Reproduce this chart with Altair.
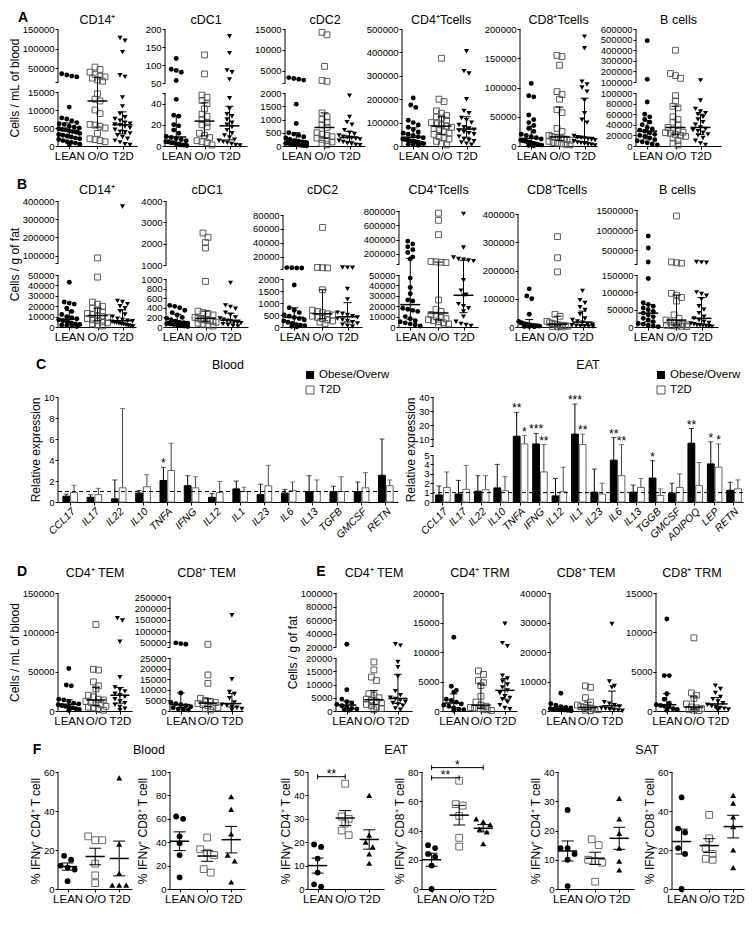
import json
import numpy as np
import pandas as pd
import altair as alt

FONT = "Liberation Sans"
GROUPS = ["LEAN", "O/O", "T2D"]
SERIES = ["Obese/Overw", "T2D"]
ONE = pd.DataFrame({"k": [0]})

# ---------------- Row A : cells / mL of blood ----------------
A_CD14_LEAN = [36000, 33000, 30000, 28000, 10800, 7800, 7500, 7000, 6500, 6200, 6000, 5500, 5200, 5000, 4800, 4600, 4500, 4200, 4000, 3800, 3500, 3200, 3000, 2800, 2500, 2200, 2000, 1800, 1500, 1200, 1000, 800, 500, 300]
A_CD14_OO = [53000, 47000, 40000, 35000, 30000, 28000, 25000, 20000, 17000, 14500, 13000, 12500, 10000, 9000, 6000, 5800, 5500, 5000, 3500, 2000, 1800, 1500, 1200]
A_CD14_T2D = [127000, 120000, 91000, 32000, 28000, 13500, 11000, 9000, 8000, 7500, 7000, 6500, 6200, 6000, 5800, 5500, 5000, 4500, 4000, 3800, 3500, 3000, 2500, 2000, 1500, 1000, 500, 300]
A_CDC1_LEAN = [118, 88, 85, 80, 57, 44, 29, 28, 20, 19, 15, 12, 9, 8, 7, 6, 5, 4, 4, 3, 3, 2, 2, 1, 1, 0.5]
A_CDC1_OO = [128, 75, 48, 46, 43, 40, 35, 30, 28, 25, 22, 20, 18, 12, 10, 8, 5, 4, 3, 1]
A_CDC1_T2D = [180, 133, 85, 80, 60, 45, 35, 30, 28, 25, 22, 20, 18, 15, 12, 10, 8, 6, 5, 4, 3, 2, 1, 0.5]
A_CDC2_LEAN = [3300, 3100, 2900, 2700, 1580, 850, 500, 450, 400, 350, 300, 250, 200, 180, 150, 120, 100, 100, 80, 60, 50, 40, 30, 20, 10]
A_CDC2_OO = [14200, 13600, 6000, 2600, 2400, 1250, 1100, 1000, 900, 800, 700, 500, 450, 400, 350, 300, 250, 200, 150, 100, 50]
A_CDC2_T2D = [1900, 1100, 900, 800, 600, 500, 450, 400, 350, 320, 300, 280, 250, 200, 150, 100, 80, 50, 30]
A_CD4_LEAN = [205000, 175000, 165000, 110000, 100000, 90000, 80000, 70000, 60000, 55000, 50000, 45000, 40000, 35000, 30000, 28000, 25000, 22000, 20000, 18000, 15000, 12000, 10000, 8000, 5000, 3000]
A_CD4_OO = [375000, 200000, 190000, 150000, 140000, 130000, 125000, 120000, 110000, 100000, 95000, 90000, 85000, 80000, 75000, 70000, 60000, 55000, 50000, 40000, 35000, 30000, 20000, 10000, 5000]
A_CD4_T2D = [405000, 320000, 310000, 200000, 150000, 140000, 120000, 110000, 100000, 90000, 80000, 75000, 70000, 65000, 60000, 55000, 50000, 40000, 30000, 25000, 20000, 15000, 10000, 5000]
A_CD8_LEAN = [107000, 86000, 84000, 53000, 45000, 40000, 35000, 30000, 25000, 20000, 18000, 16000, 14000, 12000, 10000, 9000, 8000, 7000, 6000, 5000, 4000, 3000, 2000, 1500, 1000, 500]
A_CD8_OO = [155000, 153000, 138000, 93000, 88000, 80000, 62000, 57000, 30000, 25000, 18000, 16000, 15000, 14000, 13000, 12000, 11000, 10000, 8000, 6000, 5000, 4000, 3000, 2000]
A_CD8_T2D = [187000, 167000, 110000, 105000, 100000, 93000, 78000, 56000, 45000, 40000, 17000, 15000, 14000, 13000, 12000, 11000, 10000, 8000, 6000, 5000, 4000, 3000, 2000, 1000]
A_B_LEAN = [490000, 125000, 83000, 60000, 55000, 50000, 45000, 40000, 35000, 32000, 30000, 28000, 25000, 22000, 20000, 18000, 15000, 12000, 10000, 8000, 6000, 4000, 2000]
A_B_OO = [400000, 180000, 160000, 135000, 95000, 85000, 75000, 72000, 55000, 50000, 45000, 40000, 35000, 30000, 28000, 26000, 25000, 24000, 22000, 20000, 18000, 15000, 10000, 5000, 2000]
A_B_T2D = [115000, 86000, 70000, 65000, 62000, 60000, 55000, 50000, 45000, 40000, 35000, 32000, 30000, 28000, 25000, 22000, 20000, 15000, 10000, 5000, 2000]

# ---------------- Row B : cells / g of fat ----------------
B_CD14_LEAN = [43000, 24000, 23000, 22000, 18000, 15000, 12000, 10000, 9000, 8000, 7000, 6000, 5000, 4000, 3000, 2500, 2000, 1500, 1000, 500]
B_CD14_OO = [88000, 48000, 24000, 22000, 20000, 18000, 16000, 14000, 13000, 12000, 11000, 10000, 9000, 8000, 7000, 6000, 5000, 4000, 3000, 2000, 1000]
B_CD14_T2D = [370000, 25000, 24000, 22000, 20000, 18000, 15000, 12000, 10000, 8000, 7000, 6000, 5500, 5000, 4500, 4000, 3500, 3000, 2500, 2000, 1500, 1000, 500]
B_CDC1_LEAN = [450, 430, 400, 350, 300, 250, 200, 180, 150, 120, 100, 90, 80, 70, 60, 50, 40, 30, 20, 10]
B_CDC1_OO = [2500, 2300, 2050, 1800, 950, 330, 300, 280, 250, 200, 180, 160, 150, 140, 130, 120, 100, 80, 60, 40, 20]
B_CDC1_T2D = [920, 450, 420, 380, 300, 250, 200, 180, 150, 130, 120, 100, 90, 80, 60, 40, 20, 10]
B_CDC2_LEAN = [4000, 3800, 3600, 3400, 1750, 800, 700, 600, 500, 450, 400, 350, 300, 250, 200, 150, 100, 80, 50, 30, 10]
B_CDC2_OO = [62000, 4200, 3800, 3500, 1550, 700, 650, 600, 550, 500, 450, 400, 350, 300, 250, 200, 150]
B_CDC2_T2D = [4200, 4000, 3800, 1580, 1150, 600, 550, 500, 450, 400, 350, 300, 250, 200, 150, 100, 50, 20]
B_CD4_LEAN = [380000, 340000, 300000, 260000, 220000, 160000, 130000, 47000, 38000, 32000, 26000, 25000, 18000, 17000, 16000, 15000, 10000, 8000, 6000, 5000, 4000, 3000, 2000, 1000]
B_CD4_OO = [770000, 670000, 470000, 95000, 90000, 85000, 80000, 26000, 17000, 15000, 12000, 10000, 9000, 8000, 7000, 6000, 5000, 4000, 3000, 2000]
B_CD4_T2D = [760000, 290000, 150000, 130000, 120000, 110000, 100000, 45000, 35000, 31000, 30000, 22000, 20000, 18000, 15000, 10000, 5000, 3000, 2000, 1000]
B_CD8_LEAN = [135000, 110000, 100000, 45000, 20000, 15000, 12000, 10000, 8000, 6000, 5000, 4000, 3000, 2000, 1500, 1000]
B_CD8_OO = [320000, 245000, 195000, 45000, 38000, 20000, 15000, 12000, 10000, 8000, 6000, 5000, 4000, 3000, 2000, 1000, 500]
B_CD8_T2D = [128000, 95000, 85000, 70000, 60000, 45000, 30000, 25000, 20000, 15000, 10000, 8000, 6000, 5000, 4000, 3000, 2000, 1000]
B_B_LEAN = [850000, 550000, 200000, 140000, 70000, 65000, 60000, 55000, 50000, 45000, 40000, 35000, 30000, 25000, 20000, 15000, 10000, 8000, 5000, 3000, 1000]
B_B_OO = [1350000, 200000, 180000, 170000, 97000, 92000, 85000, 75000, 35000, 25000, 20000, 15000, 12000, 10000, 8000, 6000, 5000, 4000, 3000, 2000, 1000]
B_B_T2D = [200000, 190000, 180000, 100000, 95000, 90000, 80000, 60000, 50000, 40000, 30000, 25000, 20000, 15000, 12000, 10000, 8000, 6000, 5000, 4000, 3000, 2000, 1000]

# ---------------- Row C : relative expression ----------------
BLOOD_GENES = ["CCL17", "IL17", "IL22", "IL10", "TNFA", "IFNG", "IL12", "IL1", "IL23", "IL6", "IL13", "TGFB", "GMCSF", "RETN"]
BLOOD_OB = [0.55, 0.45, 0.3, 0.85, 2.05, 1.55, 0.45, 1.25, 0.7, 0.85, 1.0, 1.0, 1.0, 2.55]
BLOOD_OB_TOP = [0.75, 0.7, 2.1, 1.1, 3.3, 2.5, 0.8, 2.0, 1.7, 1.2, 2.5, 1.5, 1.9, 6.0]
BLOOD_T2D = [0.9, 0.7, 1.35, 1.45, 3.0, 1.35, 0.9, 1.0, 1.55, 1.1, 1.0, 1.0, 1.35, 1.55]
BLOOD_T2D_TOP = [1.6, 1.3, 8.9, 2.6, 5.6, 2.4, 1.95, 1.4, 3.5, 1.9, 2.1, 2.4, 2.8, 2.1]
BLOOD_OB_SIG = ["", "", "", "", "*", "", "", "", "", "", "", "", "", ""]
BLOOD_T2D_SIG = ["", "", "", "", "", "", "", "", "", "", "", "", "", ""]
EAT_GENES = ["CCL17", "IL17", "IL22", "IL10", "TNFA", "IFNG", "IL12", "IL1", "IL23", "IL6", "IL13", "TGGB", "GMCSF", "ADIPOQ", "LEP", "RETN"]
EAT_OB = [0.75, 0.85, 1.15, 1.5, 12.0, 6.5, 0.65, 13.5, 1.05, 4.45, 1.05, 2.55, 0.95, 7.0, 4.05, 1.25]
EAT_OB_TOP = [1.7, 2.3, 2.8, 4.0, 29.0, 14.0, 2.5, 35.0, 3.5, 11.0, 1.8, 4.4, 2.0, 17.5, 8.0, 2.1]
EAT_T2D = [1.55, 1.35, 1.3, 1.2, 6.5, 3.2, 1.1, 6.0, 0.85, 2.8, 1.55, 0.7, 1.55, 1.75, 3.7, 1.4]
EAT_T2D_TOP = [3.2, 3.9, 2.8, 2.7, 12.5, 6.0, 3.7, 13.5, 2.0, 6.0, 2.5, 1.4, 3.0, 4.2, 6.5, 2.35]
EAT_OB_SIG = ["", "", "", "", "**", "***", "", "***", "", "**", "", "*", "", "**", "*", ""]
EAT_T2D_SIG = ["", "", "", "", "*", "**", "", "**", "", "**", "", "", "", "", "*", ""]

# ---------------- Row D / E ----------------
D_CD4TEM_LEAN = [54000, 33000, 32000, 15000, 14000, 12000, 10000, 9000, 8000, 7000, 6000, 5000, 4000, 3000, 2000, 1000]
D_CD4TEM_OO = [110000, 53000, 52000, 37000, 32000, 28000, 20000, 18000, 15000, 14000, 12000, 11000, 10000, 8000, 6000, 5000, 4000, 2000, 1000]
D_CD4TEM_T2D = [118000, 115000, 88000, 43000, 30000, 27000, 25000, 22000, 20000, 18000, 15000, 12000, 10000, 8000, 5000, 3000, 1000]
D_CD8TEM_LEAN = [48000, 45000, 42000, 8500, 4000, 3500, 3000, 2500, 2000, 1500, 1000, 800, 500]
D_CD8TEM_OO = [42000, 17000, 13000, 6000, 5000, 4500, 4000, 3500, 3000, 2500, 2000, 1500, 1000, 500]
D_CD8TEM_T2D = [170000, 15000, 9000, 8000, 6000, 4000, 3000, 2500, 2000, 1500, 1000, 500]
E_CD4TEM_LEAN = [24000, 8000, 4500, 3500, 3000, 2500, 2000, 1500, 1000, 800, 500, 300]
E_CD4TEM_OO = [18500, 15500, 12800, 11500, 6500, 6000, 5000, 4500, 4000, 3500, 3000, 2500, 2000, 1500, 1000, 500]
E_CD4TEM_T2D = [24000, 22000, 18500, 16500, 13000, 7500, 6000, 5000, 4500, 4000, 3500, 3000, 2500, 2000, 1000, 500]
E_CD4TRM_LEAN = [12500, 4200, 3500, 3200, 2000, 1800, 1500, 1200, 1000, 800, 500, 300, 200, 100]
E_CD4TRM_OO = [6800, 6200, 5200, 4800, 4300, 2500, 1500, 1000, 800, 600, 500, 400, 300, 200, 100]
E_CD4TRM_T2D = [14800, 11500, 11000, 6000, 5500, 5000, 4500, 4000, 3500, 3000, 2500, 2200, 2000, 1500, 1000, 500, 300]
E_CD8TEM_LEAN = [6000, 2500, 2000, 1500, 1200, 1000, 800, 600, 500, 400, 300, 200, 100]
E_CD8TEM_OO = [8500, 8000, 4500, 3000, 2000, 1500, 1200, 1000, 800, 600, 500, 300, 100]
E_CD8TEM_T2D = [29500, 10000, 8500, 8000, 3000, 2500, 2000, 1500, 1000, 800, 600, 400, 200, 100]
E_CD8TRM_LEAN = [11700, 4500, 4500, 2200, 1500, 1000, 800, 700, 600, 500, 300, 200, 100]
E_CD8TRM_OO = [9300, 2300, 2000, 1600, 900, 500, 400, 300, 200, 100, 50]
E_CD8TRM_T2D = [3200, 2800, 2300, 1800, 1500, 1200, 1000, 800, 600, 500, 400, 300, 200, 100]

# ---------------- Row F : % IFNg+ ----------------
F_BLOOD_CD4 = [[15, 17, 12, 11, 10, 4], [27, 25, 25, 13, 7, 3], [57, 23, 8, 2, 2, 2]]
F_BLOOD_CD8 = [[62, 60, 45, 39, 29, 10], [44, 34, 31, 29, 17, 14], [79, 68, 47, 29, 24, 6]]
F_EAT_CD4 = [[19, 18, 13, 7, 2, 1], [45, 31, 30, 28, 25, 23], [40, 23, 20, 18, 15, 11]]
F_EAT_CD8 = [[30, 28, 24, 22, 16, 0], [74, 58, 57, 50, 35, 29], [48, 46, 44, 41, 39, 31]]
F_SAT_CD4 = [[27, 14, 14, 12, 10, 1], [17, 15, 10, 9.5, 9, 2.5], [31, 24, 19, 14, 9.5, 6.5]]
F_SAT_CD8 = [[47, 31, 29, 21, 18, 0], [38, 26, 21, 18, 15, 15.5], [48, 44, 37, 32, 20, 11]]
F_EAT_CD4_SIG = [(0, 1, 48, "**")]
F_EAT_CD8_SIG = [(0, 1, 76, "**"), (0, 2, 83, "*")]


def build_y(segs, gaps, H, top_pad=0):
    dom, rng, labeled, breaks, lines = [], [], [], [], []
    y = float(H)
    prev_hi = None
    for k, s in enumerate(segs):
        lo, hi, h, tks = float(s[0]), float(s[1]), float(s[2]), s[3]
        lo_raw = s[0]
        if k > 0:
            y -= gaps[k - 1]
            if lo <= prev_hi:
                lo = prev_hi + (hi - prev_hi) * 1e-7
            if lo_raw not in tks:
                breaks.append(lo)
            if segs[k - 1][1] not in segs[k - 1][3]:
                breaks.append(prev_hi)
        dom += [lo, hi]
        rng += [y, y - h]
        lines.append((lo, hi))
        for t in tks:
            labeled.append(lo if (k > 0 and t == lo_raw) else float(t))
        prev_hi = hi
        y -= h
    if top_pad:
        lo, hi = lines[-1]
        h = float(segs[-1][2])
        dom.append(hi + top_pad * (hi - lo) / h)
        rng.append(y - top_pad)
    return dom, rng, sorted(set(labeled + breaks)), breaks, lines


def y_axis(values, breaks, title):
    expr = "datum.label"
    if breaks:
        cond = " || ".join("datum.value == " + json.dumps(b) for b in breaks)
        expr = "(" + cond + ") ? '' : datum.label"
    return alt.Axis(values=values, format="d", labelExpr=expr, domain=False, tickSize=3,
                    labelPadding=1, labelOverlap=False, labelFontSize=9.5, title=title,
                    titlePadding=1, grid=False, minExtent=0)


def jitter(v, base, dom, rng, unit, step, binpx, maxw):
    py = np.interp(v, dom, rng)
    order = np.argsort(py)
    xs = np.zeros(len(v))
    bins, cur, start = [], [], None
    for i in order:
        if start is None or py[i] - start > binpx:
            if cur:
                bins.append(cur)
            cur, start = [i], py[i]
        else:
            cur.append(i)
    if cur:
        bins.append(cur)
    for b in bins:
        k = len(b)
        if k == 1:
            continue
        sp = min(step, maxw / (k - 1))
        for j, i in enumerate(b):
            xs[i] = (j - (k - 1) / 2.0) * sp
    return base + xs / unit


def txt(s, x, y, size=12.5, weight="normal", align="center"):
    return alt.Chart(ONE).mark_text(text=s, fontSize=size, fontWeight=weight, align=align,
                                    baseline="middle", font=FONT, color="black").encode(
        x=alt.value(x), y=alt.value(y))


def spacer(L, W, T, H, B):
    # invisible frame that fixes the block each panel occupies in the grid
    return alt.Chart(ONE).mark_rect(fillOpacity=0, stroke="white", strokeOpacity=0, strokeWidth=0.5).encode(
        x=alt.value(-L), x2=alt.value(W), y=alt.value(-T), y2=alt.value(H + B))


def scatter_panel(title, data3, segs, gaps, H, W, L, T, B, top_pad=0, ytitle=None,
                  tri="triangle-down", unit=25.0, x0=-0.45, pos=(0.0, 1.13, 2.13), stat="median",
                  sizes=(24, 34, 26), step=5.0, binpx=5.0, maxw=21.0, half_line=0.40, half_cap=0.16,
                  title_y=-9, extras=(), sq_color="#5a5a5a", brackets=()):
    dom, rng, vals, breaks, lines = build_y(segs, gaps, H, top_pad)
    ysc = alt.Scale(domain=dom, range=rng, zero=False, nice=False)
    yax = y_axis(vals, breaks, ytitle)
    xsc = alt.Scale(domain=[x0, x0 + W / unit], zero=False, nice=False)
    m1 = (pos[0] + pos[1]) / 2.0
    m2 = (pos[1] + pos[2]) / 2.0
    xax = alt.Axis(values=list(pos),
                   labelExpr="datum.value < %g ? 'LEAN' : datum.value < %g ? 'O/O' : 'T2D'" % (m1, m2),
                   tickSize=3, labelFontSize=11.5, labelPadding=1, labelFlush=False, labelOverlap=False,
                   grid=False, title=None, domain=True, minExtent=0)

    def X(f):
        return alt.X(f, scale=xsc, axis=xax)

    def Y(f):
        return alt.Y(f, scale=ysc, axis=yax)

    layers = [spacer(L, W, T, H, B)]
    segdf = pd.DataFrame({"lo": [l[0] for l in lines], "hi": [l[1] for l in lines]})
    layers.append(alt.Chart(segdf).mark_rule(color="black", strokeWidth=1).encode(
        x=alt.value(0), y=Y("lo:Q"), y2="hi:Q"))
    marks = [dict(shape="circle", filled=True, color="black", size=sizes[0]),
             dict(shape="square", filled=False, color=sq_color, size=sizes[1], strokeWidth=1),
             dict(shape=tri, filled=True, color="black", size=sizes[2])]
    rows = []
    for gi, vg in enumerate(data3):
        v = np.array(vg, dtype=float)
        p = pos[gi]
        gx = jitter(v, p, dom, rng, unit, step, binpx, maxw)
        df = pd.DataFrame({"gx": gx, "v": v})
        layers.append(alt.Chart(df).mark_point(opacity=1, **marks[gi]).encode(x=X("gx:Q"), y=Y("v:Q")))
        if stat == "median":
            c = float(np.median(v))
            lo = float(np.percentile(v, 25))
            hi = float(np.percentile(v, 75))
        else:
            c = float(v.mean())
            se = float(v.std(ddof=1) / np.sqrt(len(v)))
            lo, hi = c - se, c + se
        rows.append(dict(g=p, c=c, lo=lo, hi=hi, xa=p - half_line, xb=p + half_line,
                         ca=p - half_cap, cb=p + half_cap))
    st = alt.Chart(pd.DataFrame(rows))
    layers += [
        st.mark_rule(color="black", strokeWidth=1.5).encode(x=X("xa:Q"), x2="xb:Q", y=Y("c:Q")),
        st.mark_rule(color="black", strokeWidth=1).encode(x=X("g:Q"), y=Y("lo:Q"), y2="hi:Q"),
        st.mark_rule(color="black", strokeWidth=1).encode(x=X("ca:Q"), x2="cb:Q", y=Y("lo:Q")),
        st.mark_rule(color="black", strokeWidth=1).encode(x=X("ca:Q"), x2="cb:Q", y=Y("hi:Q")),
    ]
    if brackets:
        d = 2.5 * (dom[-1] - dom[0]) / H
        bdf = pd.DataFrame([dict(xa=pos[b[0]], xb=pos[b[1]], y=float(b[2]), y0=b[2] - d, y1=b[2] + d,
                                 xm=(pos[b[0]] + pos[b[1]]) / 2.0, lab=b[3]) for b in brackets])
        bb = alt.Chart(bdf)
        layers += [
            bb.mark_rule(color="black", strokeWidth=1).encode(x=X("xa:Q"), x2="xb:Q", y=Y("y:Q")),
            bb.mark_rule(color="black", strokeWidth=1).encode(x=X("xa:Q"), y=Y("y0:Q"), y2="y1:Q"),
            bb.mark_rule(color="black", strokeWidth=1).encode(x=X("xb:Q"), y=Y("y0:Q"), y2="y1:Q"),
            bb.mark_text(fontSize=12, baseline="bottom", dy=4, font=FONT, color="black").encode(
                x=X("xm:Q"), y=Y("y:Q"), text="lab:N"),
        ]
    if title:
        layers.append(txt(title, W / 2.0, title_y, 12.5))
    layers += list(extras)
    return alt.layer(*layers).properties(width=W, height=H)


def bar_panel(title, genes, ob, obt, t2, t2t, obs, t2s, segs, gaps, H, W, L, T, B, pi, po, leg_x,
              extras=()):
    dom, rng, vals, breaks, lines = build_y(segs, gaps, H)
    ysc = alt.Scale(domain=dom, range=rng, zero=False, nice=False)
    yax = y_axis(vals, breaks, "Relative expression")
    n = len(genes)
    df = pd.DataFrame({"gene": genes * 2, "series": [SERIES[0]] * n + [SERIES[1]] * n,
                       "val": ob + t2, "top": obt + t2t, "sig": obs + t2s})
    xax = alt.Axis(labelAngle=-45, labelAlign="right", labelBaseline="top", labelFontStyle="italic",
                   labelFontSize=10.5, tickSize=3, labelPadding=1, title=None, domain=True, grid=False,
                   labelOverlap=False, minExtent=0)
    X = alt.X("gene:N", sort=genes, scale=alt.Scale(paddingInner=pi, paddingOuter=po), axis=xax)
    XO = alt.XOffset("series:N", sort=SERIES, scale=alt.Scale(paddingInner=0.12))

    def Y(f):
        return alt.Y(f, scale=ysc, axis=yax)

    col = alt.Color("series:N", scale=alt.Scale(domain=SERIES, range=["black", "#444444"]), legend=None)
    base = alt.Chart(df)
    segdf = pd.DataFrame({"lo": [l[0] for l in lines], "hi": [l[1] for l in lines]})
    layers = [
        spacer(L, W, T, H, B),
        alt.Chart(segdf).mark_rule(color="black", strokeWidth=1).encode(x=alt.value(0), y=Y("lo:Q"), y2="hi:Q"),
        base.mark_rule(strokeWidth=1).encode(x=X, xOffset=XO, y=Y("val:Q"), y2="top:Q", color=col),
        base.mark_tick(thickness=1, size=5).encode(x=X, xOffset=XO, y=Y("top:Q"), color=col),
        base.mark_bar(strokeWidth=1).encode(
            x=X, xOffset=XO, y=Y("val:Q"), y2=alt.datum(0),
            fill=alt.Fill("series:N", scale=alt.Scale(domain=SERIES, range=["black", "white"]), legend=None),
            stroke=alt.Stroke("series:N", scale=alt.Scale(domain=SERIES, range=["black", "#666666"]), legend=None)),
        base.mark_text(fontSize=12, baseline="bottom", dy=3, font=FONT, color="black").encode(
            x=X, xOffset=XO, y=Y("top:Q"), text="sig:N"),
        alt.Chart(ONE).mark_rule(strokeDash=[4, 3], color="black", strokeWidth=1).encode(
            y=alt.YDatum(1.0, scale=ysc, axis=yax)),
        alt.Chart(ONE).mark_square(size=64, color="black", opacity=1).encode(x=alt.value(leg_x), y=alt.value(-22)),
        alt.Chart(ONE).mark_square(size=64, fill="white", stroke="#555555", strokeWidth=1, opacity=1).encode(
            x=alt.value(leg_x), y=alt.value(-7)),
        txt(SERIES[0], leg_x + 9, -22, 11.5, align="left"),
        txt(SERIES[1], leg_x + 9, -7, 11.5, align="left"),
        txt(title, W / 2.0, -32, 12.5),
    ] + list(extras)
    return alt.layer(*layers).properties(width=W, height=H)


def lefts(a, W):
    L = [a[0] - 8]
    for i in range(1, len(a)):
        L.append(a[i] - (a[i - 1] + W[i - 1]))
    return L


def ticks(step, top):
    return list(range(0, top + 1, step))


# ---------------- Row A ----------------
aA = [51, 158, 278, 395, 513, 628]
WA = [79, 82, 80, 78, 77, 85]
LA = lefts(aA, WA)
HA, TA, BA = 117, 21, 22
rowA = alt.hconcat(
    scatter_panel("CD14⁺", [A_CD14_LEAN, A_CD14_OO, A_CD14_T2D],
                  [(0, 15000, 54, ticks(5000, 15000)), (15000, 150000, 53, [50000, 100000, 150000])], [10],
                  HA, WA[0], LA[0], TA, BA, ytitle="Cells / mL of blood",
                  extras=[txt("A", -LA[0] + 8, -11, 14, "bold")]),
    scatter_panel("cDC1", [A_CDC1_LEAN, A_CDC1_OO, A_CDC1_T2D],
                  [(0, 50, 53, [0, 20, 40]), (50, 200, 54, [50, 100, 150, 200])], [10],
                  HA, WA[1], LA[1], TA, BA),
    scatter_panel("cDC2", [A_CDC2_LEAN, A_CDC2_OO, A_CDC2_T2D],
                  [(0, 2000, 53, ticks(500, 2000)), (2000, 15000, 54, [5000, 10000, 15000])], [10],
                  HA, WA[2], LA[2], TA, BA),
    scatter_panel("CD4⁺Tcells", [A_CD4_LEAN, A_CD4_OO, A_CD4_T2D],
                  [(0, 500000, 117, ticks(100000, 500000))], [], HA, WA[3], LA[3], TA, BA),
    scatter_panel("CD8⁺Tcells", [A_CD8_LEAN, A_CD8_OO, A_CD8_T2D],
                  [(0, 200000, 117, ticks(50000, 200000))], [], HA, WA[4], LA[4], TA, BA),
    scatter_panel("B cells", [A_B_LEAN, A_B_OO, A_B_T2D],
                  [(0, 100000, 53, ticks(20000, 100000)), (100000, 600000, 53, ticks(100000, 600000)[1:])], [11],
                  HA, WA[5], LA[5], TA, BA),
    spacing=0)

# ---------------- Row B ----------------
aB = [52, 160, 277, 393, 512, 631]
WB = [78, 82, 79, 79, 78, 81]
LB = lefts(aB, WB)
HB, TB, BB = 126, 33, 22
rowB = alt.hconcat(
    scatter_panel("CD14⁺", [B_CD14_LEAN, B_CD14_OO, B_CD14_T2D],
                  [(0, 50000, 52, ticks(10000, 50000)), (60000, 400000, 62, [100000, 200000, 300000, 400000])], [12],
                  HB, WB[0], LB[0], TB, BB, ytitle="Cells / g of fat", title_y=-11,
                  extras=[txt("B", -LB[0] + 8, -16, 14, "bold")]),
    scatter_panel("cDC1", [B_CDC1_LEAN, B_CDC1_OO, B_CDC1_T2D],
                  [(0, 1000, 48, ticks(200, 1000)), (1000, 4000, 64, [1000, 2000, 3000, 4000])], [14],
                  HB, WB[1], LB[1], TB, BB, title_y=-11),
    scatter_panel("cDC2", [B_CDC2_LEAN, B_CDC2_OO, B_CDC2_T2D],
                  [(0, 2000, 48, ticks(500, 2000)), (2000, 80000, 54, [20000, 40000, 60000, 80000])], [10],
                  HB, WB[2], LB[2], TB, BB, top_pad=14, title_y=-11),
    scatter_panel("CD4⁺Tcells", [B_CD4_LEAN, B_CD4_OO, B_CD4_T2D],
                  [(0, 50000, 52, ticks(10000, 50000)), (60000, 800000, 53, [200000, 400000, 600000, 800000])], [11],
                  HB, WB[3], LB[3], TB, BB, top_pad=10, title_y=-11),
    scatter_panel("CD8⁺Tcells", [B_CD8_LEAN, B_CD8_OO, B_CD8_T2D],
                  [(0, 400000, 113, ticks(100000, 400000))], [], HB, WB[4], LB[4], TB, BB, top_pad=13,
                  title_y=-11),
    scatter_panel("B cells", [B_B_LEAN, B_B_OO, B_B_T2D],
                  [(0, 150000, 52, ticks(50000, 150000)), (150000, 1500000, 54, [500000, 1000000, 1500000])], [11],
                  HB, WB[5], LB[5], TB, BB, top_pad=9, title_y=-11),
    spacing=0)

# ---------------- Row C ----------------
aC = [33, 407]
WC = [340, 310]
LC = lefts(aC, WC)
HC, TC, BC = 105, 48, 40
rowC = alt.hconcat(
    bar_panel("Blood", BLOOD_GENES, BLOOD_OB, BLOOD_OB_TOP, BLOOD_T2D, BLOOD_T2D_TOP, BLOOD_OB_SIG, BLOOD_T2D_SIG,
              [(0, 10, 105, ticks(2, 10))], [], HC, WC[0], LC[0], TC, BC, 0.4, 0.2, 252,
              extras=[txt("C", -LC[0] + 8, -32, 14, "bold")]),
    bar_panel("EAT", EAT_GENES, EAT_OB, EAT_OB_TOP, EAT_T2D, EAT_T2D_TOP, EAT_OB_SIG, EAT_T2D_SIG,
              [(0, 5, 47, ticks(1, 5)), (5, 40, 49, [10, 20, 30, 40])], [9], HC, WC[1], LC[1], TC, BC,
              0.3, 0.135, 228),
    spacing=0)

# ---------------- Row D / E ----------------
aD = [52, 164, 328, 433, 540, 643]
WD = [74, 73, 76, 74, 72, 72]
LD = lefts(aD, WD)
HD, TD, BD = 118, 50, 22
dkw = dict(unit=24.0, title_y=-20)
rowD = alt.hconcat(
    scatter_panel("CD4⁺ TEM", [D_CD4TEM_LEAN, D_CD4TEM_OO, D_CD4TEM_T2D],
                  [(0, 150000, 118, ticks(50000, 150000))], [], HD, WD[0], LD[0], TD, BD,
                  ytitle="Cells / mL of blood", extras=[txt("D", -LD[0] + 8, -21, 14, "bold")], **dkw),
    scatter_panel("CD8⁺ TEM", [D_CD8TEM_LEAN, D_CD8TEM_OO, D_CD8TEM_T2D],
                  [(0, 25000, 53, ticks(5000, 25000)), (30000, 255000, 51, [50000, 100000, 150000, 200000, 250000])],
                  [11], HD, WD[1], LD[1], TD, BD, top_pad=3, **dkw),
    scatter_panel("CD4⁺ TEM", [E_CD4TEM_LEAN, E_CD4TEM_OO, E_CD4TEM_T2D],
                  [(0, 20000, 53, ticks(5000, 20000)), (20000, 100000, 54, [20000, 40000, 60000, 80000, 100000])],
                  [11], HD, WD[2], LD[2], TD, BD, ytitle="Cells / g of fat",
                  extras=[txt("E", -15, -21, 14, "bold")], **dkw),
    scatter_panel("CD4⁺ TRM", [E_CD4TRM_LEAN, E_CD4TRM_OO, E_CD4TRM_T2D],
                  [(0, 20000, 118, ticks(5000, 20000))], [], HD, WD[3], LD[3], TD, BD, **dkw),
    scatter_panel("CD8⁺ TEM", [E_CD8TEM_LEAN, E_CD8TEM_OO, E_CD8TEM_T2D],
                  [(0, 40000, 118, ticks(10000, 40000))], [], HD, WD[4], LD[4], TD, BD, **dkw),
    scatter_panel("CD8⁺ TRM", [E_CD8TRM_LEAN, E_CD8TRM_OO, E_CD8TRM_T2D],
                  [(0, 15000, 118, ticks(5000, 15000))], [], HD, WD[5], LD[5], TD, BD, **dkw),
    spacing=0)

# ---------------- Row F ----------------
aF = [37, 149, 287, 400, 536, 650]
WF = [74, 75, 76, 74, 76, 72]
LF = lefts(aF, WF)
HF, TF, BF = 117, 39, 30
fkw = dict(tri="triangle-up", unit=24.0, x0=-0.4, pos=(0.0, 1.15, 2.15), stat="mean", sizes=(34, 46, 36),
           step=7.0, binpx=6.0, maxw=16.0, half_line=0.4, half_cap=0.25, sq_color="#6a6a6a")
CD4T = "% IFNγ⁺ CD4⁺ T cell"
CD8T = "% IFNγ⁺ CD8⁺ T cell"
rowF = alt.hconcat(
    scatter_panel(None, F_BLOOD_CD4, [(0, 60, 117, ticks(20, 60))], [], HF, WF[0], LF[0], TF, BF, ytitle=CD4T,
                  extras=[txt("F", -LF[0] + 8, -22, 14, "bold")], **fkw),
    scatter_panel(None, F_BLOOD_CD8, [(0, 100, 117, ticks(20, 100))], [], HF, WF[1], LF[1], TF, BF, ytitle=CD8T,
                  extras=[txt("Blood", -21, -22)], **fkw),
    scatter_panel(None, F_EAT_CD4, [(0, 50, 117, ticks(10, 50))], [], HF, WF[2], LF[2], TF, BF, ytitle=CD4T,
                  brackets=F_EAT_CD4_SIG, **fkw),
    scatter_panel(None, F_EAT_CD8, [(0, 80, 117, ticks(20, 80))], [], HF, WF[3], LF[3], TF, BF, ytitle=CD8T,
                  brackets=F_EAT_CD8_SIG, extras=[txt("EAT", -26, -22)], **fkw),
    scatter_panel(None, F_SAT_CD4, [(0, 40, 117, ticks(10, 40))], [], HF, WF[4], LF[4], TF, BF, ytitle=CD4T,
                  **fkw),
    scatter_panel(None, F_SAT_CD8, [(0, 60, 117, ticks(20, 60))], [], HF, WF[5], LF[5], TF, BF, ytitle=CD8T,
                  extras=[txt("SAT", -25, -22)], **fkw),
    spacing=0)

chart = alt.vconcat(rowA, rowB, rowC, rowD, rowF, spacing=0).properties(padding=0).configure_view(
    stroke=None
).configure_axis(
    labelFont=FONT, titleFont=FONT, labelColor="black", titleColor="black", tickColor="black",
    domainColor="black", titleFontWeight="normal", titleFontSize=12, labelFontSize=9.5
).configure_text(font=FONT)

chart.save("out.html", embed_options={"renderer": "svg", "actions": False})
